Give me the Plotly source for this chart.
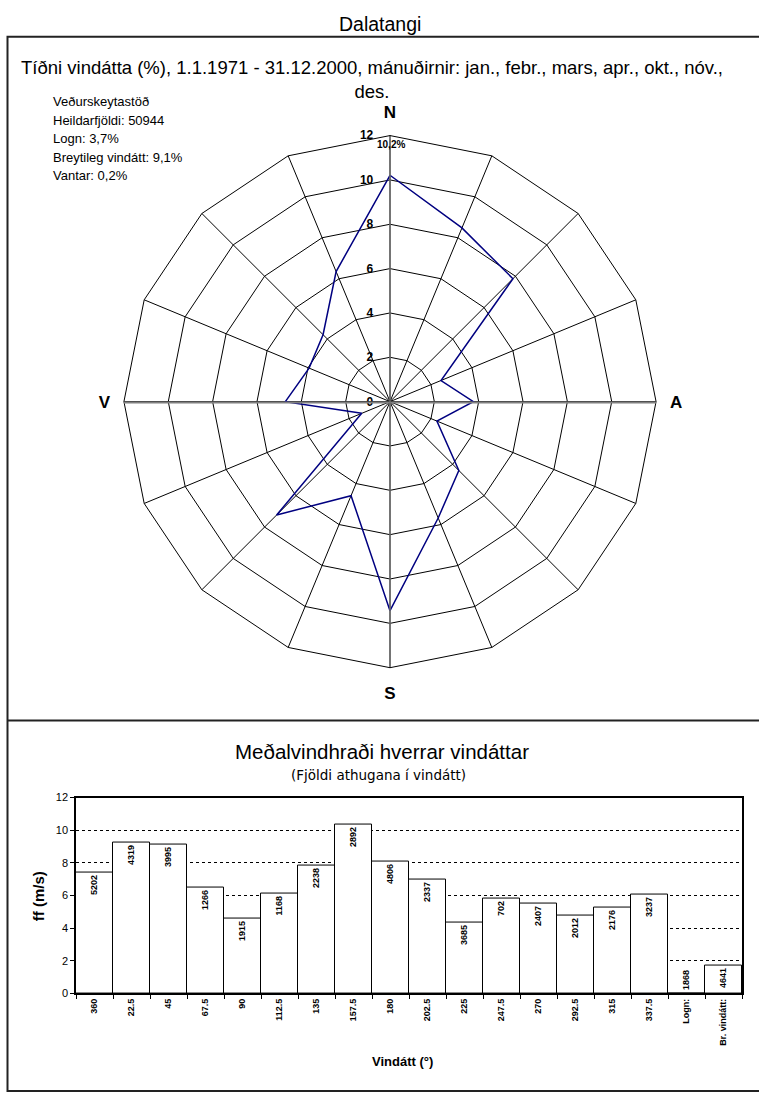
import plotly.graph_objects as go

W, H = 759, 1099

# ---- data ----
directions = ["N", "NNA", "NA", "ANA", "A", "ASA", "SA", "SSA",
              "S", "SSV", "SV", "VSV", "V", "VNV", "NV", "NNV"]
freq_pct = [10.21, 8.48, 7.84, 2.49, 3.76, 2.29, 4.39, 5.68, 9.43, 4.59, 7.23, 1.38, 4.72, 3.95, 4.27, 6.35]
compass_text = ["N", "", "", "", "A", "", "", "", "S", "", "", "", "V", "", "", ""]

bar_cats = ["360", "22.5", "45", "67.5", "90", "112.5", "135", "157.5", "180", "202.5",
            "225", "247.5", "270", "292.5", "315", "337.5", "Logn:", "Br. vindátt:"]
bar_speed = [7.43, 9.25, 9.11, 6.5, 4.58, 6.14, 7.82, 10.36, 8.1, 6.95,
             4.34, 5.8, 5.53, 4.75, 5.25, 6.04, 0.0, 1.7]
bar_counts = [5202, 4319, 3995, 1266, 1915, 1168, 2238, 2892, 4806, 2337,
              3685, 702, 2407, 2012, 2176, 3237, 1868, 4641]

info_lines = ["Veðurskeytastöð", "Heildarfjöldi: 50944", "Logn: 3,7%",
              "Breytileg vindátt: 9,1%", "Vantar: 0,2%"]


def px(x):
    return x / W


def py(y):
    return 1 - y / H


FONT = "Liberation Sans, Arial, sans-serif"
FONT2 = "DejaVu Sans, Verdana, sans-serif"

fig = go.Figure()

# polar trace
fig.add_trace(go.Scatterpolar(
    r=freq_pct + [freq_pct[0]],
    theta=directions + [directions[0]],
    mode="lines",
    line=dict(color="#000080", width=1.5),
    showlegend=False,
    hoverinfo="skip",
))

# bar trace
textpos = ["outside" if v < 0.5 else "inside" for v in bar_speed]
fig.add_trace(go.Bar(
    x=bar_cats, y=bar_speed,
    text=[str(c) for c in bar_counts],
    textposition=textpos,
    insidetextanchor="end",
    textangle=-90,
    constraintext="none",
    textfont=dict(family=FONT, size=9, color="black", weight="bold"),
    marker=dict(color="white", line=dict(color="black", width=1)),
    cliponaxis=False,
    showlegend=False,
    xaxis="x", yaxis="y",
))

fig.update_layout(
    width=W, height=H,
    margin=dict(l=0, r=0, t=0, b=0),
    paper_bgcolor="white",
    plot_bgcolor="white",
    bargap=0,
    uniformtext=dict(minsize=9, mode="show"),
    polar=dict(
        domain=dict(x=[px(121), px(659)], y=[py(669), py(131)]),
        bgcolor="white",
        gridshape="linear",
        angularaxis=dict(
            type="category",
            categoryorder="array", categoryarray=directions,
            direction="clockwise", rotation=90,
            tickmode="array", tickvals=directions, ticktext=compass_text,
            showgrid=True, gridcolor="black", gridwidth=1,
            showline=True, linecolor="black", linewidth=1,
            ticks="outside", ticklen=10, tickcolor="rgba(0,0,0,0)",
            tickfont=dict(family=FONT, size=17, color="black", weight="bold"),
        ),
        radialaxis=dict(
            range=[0, 12], dtick=2, angle=90, side="counterclockwise",
            tickangle=90,
            showline=False,
            ticks="outside", ticklen=12, tickcolor="rgba(0,0,0,0)",
            showgrid=True, gridcolor="black", gridwidth=1,
            tickfont=dict(family=FONT, size=12, color="black", weight="bold"),
        ),
    ),
    xaxis=dict(
        domain=[px(76), px(742)], anchor="y", type="category",
        tickangle=-90, tickson="boundaries", ticks="outside", ticklen=4,
        tickcolor="black",
        tickfont=dict(family=FONT, size=9, color="black", weight="bold"),
        showline=True, linecolor="black", linewidth=1.5, mirror=True,
        showgrid=False,
    ),
    yaxis=dict(
        domain=[py(998.3), py(800.3)], anchor="x",
        range=[0, 12], dtick=2,
        ticks="outside", ticklen=4, tickcolor="black",
        tickfont=dict(family=FONT, size=11, color="black"),
        showline=True, linecolor="black", linewidth=1.5, mirror=True,
        showgrid=True, gridcolor="black", gridwidth=1, griddash="dot",
        zeroline=False,
    ),
)

shapes = []
# frame
shapes.append(dict(type="rect", xref="paper", yref="paper",
                   x0=px(7.5), x1=px(775), y0=py(1097), y1=py(31),
                   line=dict(color="#222", width=2)))
shapes.append(dict(type="line", xref="paper", yref="paper",
                   x0=px(7.5), x1=px(775), y0=py(722.5), y1=py(722.5),
                   line=dict(color="#222", width=2)))
# gray cross axes of the rose
shapes.append(dict(type="line", xref="paper", yref="paper",
                   x0=px(124), x1=px(656), y0=py(401), y1=py(401),
                   line=dict(color="#808080", width=2)))
shapes.append(dict(type="line", xref="paper", yref="paper",
                   x0=px(390), x1=px(390), y0=py(135), y1=py(667),
                   line=dict(color="#707070", width=1.5)))
fig.update_layout(shapes=shapes)

ann = []
ann.append(dict(text="Dalatangi", x=px(380), y=py(18), xref="paper", yref="paper",
                showarrow=False, font=dict(family=FONT, size=19.5, color="black"),
                xanchor="center", yanchor="middle"))
ann.append(dict(text="Tíðni vindátta (%), 1.1.1971 - 31.12.2000, mánuðirnir: jan., febr., mars, apr., okt., nóv.,<br>des.",
                x=px(372), y=py(74), xref="paper", yref="paper",
                showarrow=False, font=dict(family=FONT, size=18.5, color="black"),
                xanchor="center", yanchor="middle", align="center"))
for i, t in enumerate(info_lines):
    ann.append(dict(text=t, x=px(51), y=py(97 + i * 18.6), xref="paper", yref="paper",
                    showarrow=False, font=dict(family=FONT, size=13, color="black"),
                    xanchor="left", yanchor="middle"))
ann.append(dict(text="10,2%", x=px(391), y=py(140), xref="paper", yref="paper",
                showarrow=False, font=dict(family=FONT, size=10, color="black", weight="bold"),
                xanchor="center", yanchor="middle"))
ann.append(dict(text="Meðalvindhraði hverrar vindáttar", x=px(382), y=py(754),
                xref="paper", yref="paper", showarrow=False,
                font=dict(family=FONT, size=20.5, color="black"),
                xanchor="center", yanchor="middle"))
ann.append(dict(text="(Fjöldi athugana í vindátt)", x=px(378), y=py(777),
                xref="paper", yref="paper", showarrow=False,
                font=dict(family=FONT2, size=13.5, color="black"),
                xanchor="center", yanchor="middle"))
ann.append(dict(text="ff (m/s)", x=px(38), y=py(900), xref="paper", yref="paper",
                showarrow=False, textangle=-90,
                font=dict(family=FONT, size=15, color="black", weight="bold"),
                xanchor="center", yanchor="middle"))
ann.append(dict(text="Vindátt (°)", x=px(402), y=py(1067), xref="paper", yref="paper",
                showarrow=False,
                font=dict(family=FONT, size=13, color="black", weight="bold"),
                xanchor="center", yanchor="middle"))
fig.update_layout(annotations=ann)

fig.write_html("out.html", config={"displayModeBar": False},
               post_script="document.body.style.margin='0';document.body.style.overflow='hidden';")
